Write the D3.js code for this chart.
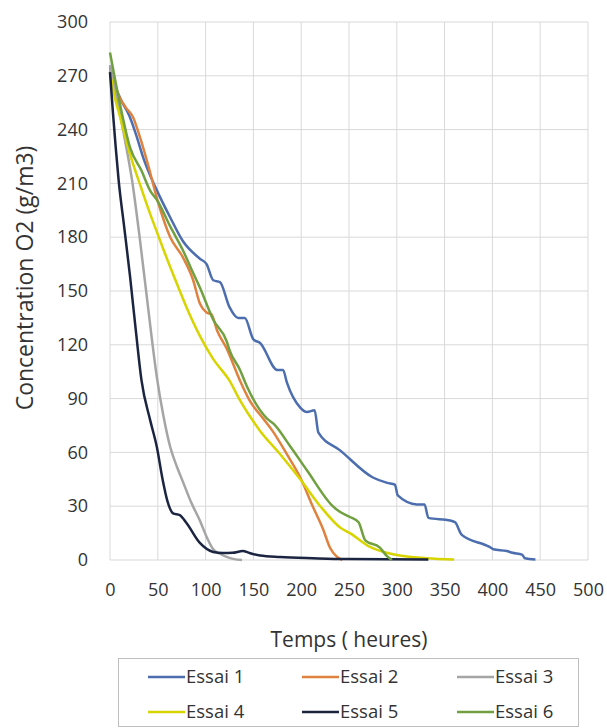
<!DOCTYPE html>
<html>
<head>
<meta charset="utf-8">
<script src="https://cdn.jsdelivr.net/npm/d3@7"></script>
<style>
  body { margin: 0; background: #fff; }
  svg { display: block; font-family: 'Open Sans', sans-serif; }
</style>
</head>
<body>
<svg id="chart"></svg>
<script>
const width = 607
const height = 728

// ticks
const xTicks = [0, 50, 100, 150, 200, 250, 300, 350, 400, 450, 500]
const yTicks = [0, 30, 60, 90, 120, 150, 180, 210, 240, 270, 300]

// series names / colours
const seriesNames = ['Essai 1', 'Essai 2', 'Essai 3', 'Essai 4', 'Essai 5', 'Essai 6']
const seriesColors = ['#4c6eae', '#e0823f', '#a5a5a5', '#d8d400', '#1b2440', '#70a040']

// values: [heures, g/m3]
const essai1 = [[0, 275], [5, 265], [12, 256], [20, 248], [28, 236], [35, 224], [40, 217], [50, 205],
  [63, 191], [76, 178], [94, 168], [101, 165], [108, 156], [115, 155], [125, 141], [134, 135],
  [141, 135], [150, 123], [157, 121], [175, 106], [181, 106], [185, 99], [199, 85], [206, 82.5],
  [214, 83.5], [218, 71], [241, 61], [275, 46], [290, 43], [298, 42], [301, 36], [321, 31],
  [329, 31], [333, 23.5], [356, 22], [361, 21], [368, 14], [397, 7.3], [401, 6], [415, 5],
  [421, 4], [431, 3], [434, 1], [445, 0.3]]
const essai2 = [[0, 273], [10, 258], [17, 252], [24, 247], [30, 238], [40, 220], [50, 200],
  [63, 180], [76, 169], [87, 156], [94, 143], [101, 138], [106, 137], [112, 128], [122, 118],
  [136, 100], [146, 89], [160, 79], [170, 72], [185, 59], [199, 46], [212, 30], [223, 17],
  [230, 7], [237, 2], [243, 0]]
const essai3 = [[0, 276], [5, 262], [10, 250], [15, 236], [23, 212], [31, 180], [40, 140],
  [49, 102], [56, 80], [63, 63], [70, 52], [76, 44], [85, 32], [94, 22], [101, 13], [108, 6],
  [115, 3.5], [122, 1.7], [130, 0.5], [138, 0]]
const essai4 = [[0, 272], [5, 258], [10, 248], [14, 240], [20, 228], [31, 210], [42, 193],
  [49, 183], [56, 173], [70, 154], [80, 141], [94, 125], [108, 112], [125, 100], [136, 89],
  [157, 72], [178, 59], [199, 45], [220, 30], [241, 18], [251, 15], [272, 7.3], [300, 2.8],
  [331, 1], [360, 0.3]]
const essai5 = [[0, 272], [3, 250], [6, 230], [9, 212], [15, 185], [21, 158], [27, 128],
  [33, 100], [42, 78], [49, 63], [55, 45], [60, 33], [66, 26], [73, 25], [80, 20.6], [94, 9.5],
  [108, 4.5], [118, 3.9], [128, 4], [139, 5], [146, 3.9], [157, 2.5], [178, 1.7], [212, 1],
  [247, 0.5], [333, 0.3]]
const essai6 = [[0, 283], [9, 258], [21, 230], [33, 217], [42, 206], [50, 200], [63, 186],
  [76, 173], [87, 160], [94, 152], [108, 134], [122, 122], [125, 117], [136, 106], [143, 97],
  [164, 79], [171, 76], [189, 63], [206, 50], [233, 30], [240, 27], [251, 24], [260, 21],
  [267, 11], [282, 7], [290, 2], [295, 0]]

const allSeries = [essai1, essai2, essai3, essai4, essai5, essai6]

const svg = d3.select('#chart').attr('width', width).attr('height', height)

// --------------------------------------------------------------
// Scales
const x = d3.scaleLinear().domain([0, 500]).range([110, 588])
const y = d3.scaleLinear().domain([0, 300]).range([560, 22])

// grid
svg.append('g')
  .attr('class', 'grid')
  .selectAll('line.v')
  .data(xTicks)
  .join('line')
  .attr('x1', (d) => x(d))
  .attr('x2', (d) => x(d))
  .attr('y1', y(0))
  .attr('y2', y(300))
  .attr('stroke', '#d9d9d9')
  .attr('stroke-width', 1)

svg.append('g')
  .attr('class', 'grid')
  .selectAll('line.h')
  .data(yTicks)
  .join('line')
  .attr('x1', x(0))
  .attr('x2', x(500))
  .attr('y1', (d) => y(d))
  .attr('y2', (d) => y(d))
  .attr('stroke', '#d9d9d9')
  .attr('stroke-width', 1)

// axes (labels only)
const xAxis = svg.append('g')
  .attr('transform', `translate(0,${y(0) + 23})`)
  .call(d3.axisBottom(x).tickValues(xTicks).tickSize(0).tickPadding(0))
xAxis.select('.domain').remove()
xAxis.selectAll('text')
  .attr('dy', '0.71em')
  .attr('font-size', 18)
  .attr('font-family', 'Open Sans')
  .attr('fill', '#333')

const yAxis = svg.append('g')
  .attr('transform', `translate(${x(0) - 22},0)`)
  .call(d3.axisLeft(y).tickValues(yTicks).tickSize(0).tickPadding(0))
yAxis.select('.domain').remove()
yAxis.selectAll('text')
  .attr('font-size', 18)
  .attr('font-family', 'Open Sans')
  .attr('fill', '#333')

// --------------------------------------------------------------
// Lines
const line = d3.line()
  .x((d) => x(d[0]))
  .y((d) => y(d[1]))
  .curve(d3.curveMonotoneX)

svg.append('g')
  .attr('class', 'lines')
  .selectAll('path')
  .data(allSeries)
  .join('path')
  .attr('d', (d) => line(d))
  .attr('fill', 'none')
  .attr('stroke', (d, i) => seriesColors[i])
  .attr('stroke-width', 2.5)
  .attr('stroke-linejoin', 'round')

// --------------------------------------------------------------
// Titles
svg.append('text')
  .attr('x', 349)
  .attr('y', 647)
  .attr('text-anchor', 'middle')
  .attr('font-size', 21)
  .attr('fill', '#333')
  .text('Temps ( heures)')

svg.append('text')
  .attr('transform', 'translate(33,278) rotate(-90)')
  .attr('text-anchor', 'middle')
  .attr('font-size', 23)
  .attr('fill', '#333')
  .text('Concentration O2 (g/m3)')

// --------------------------------------------------------------
// Legend
svg.append('rect')
  .attr('x', 118.5)
  .attr('y', 658.5)
  .attr('width', 460)
  .attr('height', 68)
  .attr('fill', 'none')
  .attr('stroke', '#bfbfbf')

const legendX = [148, 302, 457]
const legendY = [677, 712]

const items = svg.append('g')
  .attr('class', 'legend')
  .selectAll('g')
  .data(seriesNames)
  .join('g')
  .attr('transform', (d, i) => `translate(${legendX[i % 3]},${legendY[Math.floor(i / 3)]})`)

items.append('line')
  .attr('x1', 0)
  .attr('x2', 37)
  .attr('stroke', (d, i) => seriesColors[i])
  .attr('stroke-width', 2.5)

items.append('text')
  .attr('x', 38)
  .attr('dy', '0.35em')
  .attr('font-size', 18.5)
  .attr('fill', '#333')
  .text((d) => d)
</script>
</body>
</html>
